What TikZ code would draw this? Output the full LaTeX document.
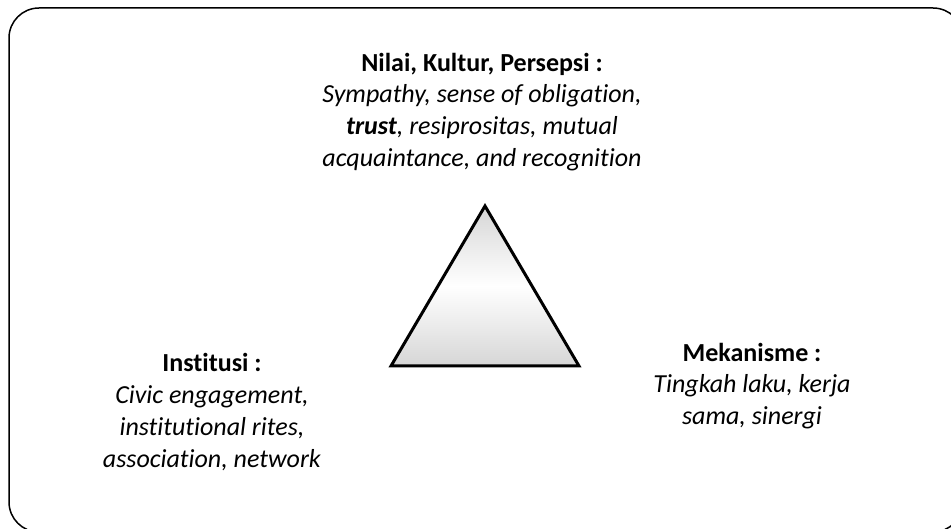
\documentclass[tikz,border=0pt]{standalone}
\usepackage{fontspec}
\setmainfont{Carlito}[Ligatures=NoCommon]
\begin{document}
\begin{tikzpicture}[x=1pt,y=-1pt,font=\fontsize{26}{31.8}\selectfont,
	lbl/.style={align=center,inner sep=0pt}]
			\useasboundingbox (0,0) rectangle (951,529);
			\clip (0,0) rectangle (951,529);
			\draw[line width=1.5pt,rounded corners=30pt](9,8) rectangle (963,532);
			\coordinate (apex) at (485,206);
			\coordinate (bl) at (391,366);
			\coordinate (br) at (579,366);
			\shade[top color=black!16,bottom color=black!16,middle color=white](apex)--(bl)--(br)--cycle;
			\draw[line width=3pt,line join=miter](apex)--(bl)--(br)--cycle;
			\node[lbl] (nilai) at (482,112) {\textbf{Nilai, Kultur, Persepsi :}\\ \textit{Sympathy, sense of obligation,}\\ \textit{\textbf{trust}, resiprositas, mutual}\\ \textit{acquaintance, and recognition}};
			\node[lbl] (institusi) at (212,412) {\textbf{Institusi :}\\ \textit{Civic engagement,}\\ \textit{institutional rites,}\\ \textit{association, network}};
			\node[lbl] (mekanisme) at (752,386) {\textbf{Mekanisme :}\\ \textit{Tingkah laku, kerja}\\ \textit{sama, sinergi}};
		\end{tikzpicture}
\end{document}
